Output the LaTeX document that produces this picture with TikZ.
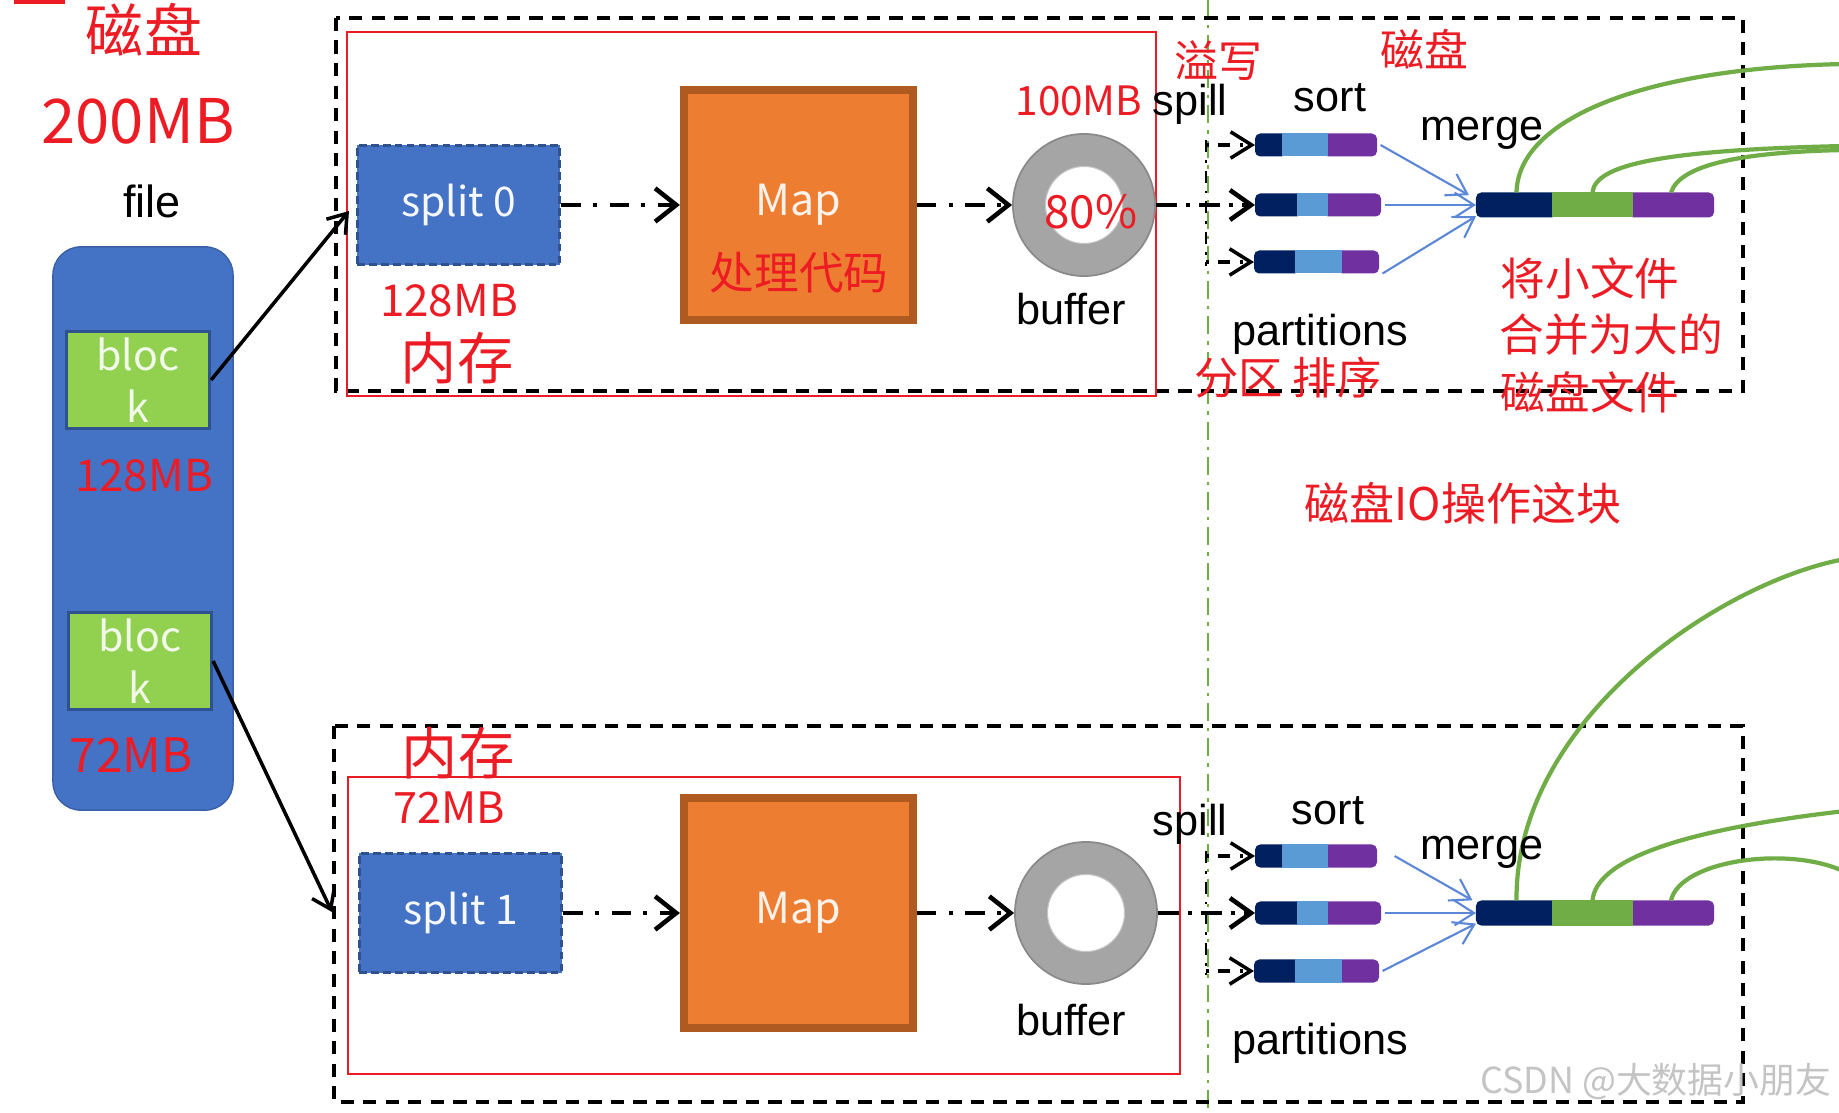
\documentclass[tikz,border=0pt]{standalone}
\usepackage{fontspec}
\setmainfont{Liberation Sans}
\newfontfamily\cjk{Noto Sans CJK SC}
\usetikzlibrary{arrows.meta,shapes.geometric}
\definecolor{cred}{RGB}{237,28,36}
\definecolor{cblue}{HTML}{4472C4}
\definecolor{cblueb}{HTML}{2F528F}
\definecolor{cgreenblk}{HTML}{92D050}
\definecolor{corange}{HTML}{ED7D31}
\definecolor{corangeb}{HTML}{AE5A21}
\definecolor{cgray}{HTML}{A5A5A5}
\definecolor{cgrayb}{HTML}{8A8A8A}
\definecolor{cnavy}{HTML}{002060}
\definecolor{clblue}{HTML}{5B9BD5}
\definecolor{cpurple}{HTML}{7030A0}
\definecolor{cgreen}{HTML}{70AD47}
\definecolor{carrowblue}{HTML}{5B87D6}
\definecolor{cmark}{HTML}{C4C4C4}
\begin{document}
\begin{tikzpicture}[x=0.01cm, y=-0.01cm,
  redtxt/.style={text=cred, inner sep=0, font=\cjk\fontsize{12.5}{15}\selectfont},
  blktxt/.style={text=black, inner sep=0, font=\fontsize{12.3}{14}\selectfont},
  outerbox/.style={draw=black, line width=1.1pt, dash pattern=on 3.8pt off 2.6pt},
  redbox/.style={draw=cred, line width=0.6pt},
  divider/.style={draw=cgreen, line width=0.6pt, dash pattern=on 5pt off 2pt on 1pt off 2pt},
  disk/.style={rectangle, rounded corners=0.28cm, fill=cblue, draw=cblue!85!black, line width=0.4pt, minimum width=1.80cm, minimum height=5.63cm, inner sep=0},
  blockbox/.style={rectangle, fill=cgreenblk, draw=cblueb, line width=0.9pt, minimum width=1.43cm, minimum height=0.97cm, text=white!88!cgreenblk, align=center, inner sep=0, font=\cjk\fontsize{11.7}{14.8}\selectfont},
  splitbox/.style={rectangle, fill=cblue, draw=cblueb, line width=1pt, dash pattern=on 2.2pt off 1.2pt, minimum width=2.02cm, minimum height=1.19cm, text=white!95!cblue, inner sep=0, font=\cjk\fontsize{11.6}{14}\selectfont},
  mapbox/.style={rectangle, fill=corange, draw=corangeb, line width=2.3pt, minimum width=2.29cm, minimum height=2.29cm, text=white!90!corange, inner sep=0, font=\cjk\fontsize{12.2}{14}\selectfont},
  ring/.style={circle, fill=cgray, draw=cgrayb, line width=0.5pt, minimum size=1.42cm, inner sep=0},
  hole/.style={circle, fill=white, draw=cgrayb!50, line width=0.3pt, minimum size=0.77cm, inner sep=0},
  seg/.style={rectangle, inner sep=0, outer sep=0, minimum height=0.23cm},
  mseg/.style={rectangle, inner sep=0, outer sep=0, minimum height=0.25cm},
  flow/.style={draw=black, line width=1.2pt, dash pattern=on 5.5pt off 3.5pt on 1.2pt off 3.5pt, -{Straight Barb[length=6pt,width=9.5pt,line width=1.3pt]}},
  spillmain/.style={draw=black, line width=1.2pt, dash pattern=on 6pt off 2.5pt on 1.2pt off 2.5pt, -{Straight Barb[length=6pt,width=8.5pt,line width=1.3pt]}},
  spillv/.style={draw=black, line width=0.8pt, dash pattern=on 3.5pt off 2.2pt on 0.8pt off 2.2pt},
  spilla/.style={draw=black, line width=0.9pt, dash pattern=on 0.8pt off 2.5pt on 3.5pt off 3pt, -{Straight Barb[length=6pt,width=7.5pt,line width=1pt]}},
  mergearrow/.style={draw=carrowblue, line width=0.6pt, -{Straight Barb[length=5.5pt,width=7pt,line width=0.6pt]}},
  gcurve/.style={draw=cgreen, line width=1.2pt},
  link/.style={draw=black, line width=1pt, -{Straight Barb[length=5pt,width=7pt,line width=1pt]}}
]
\useasboundingbox (0,0) rectangle (1839,1113);
\fill[white] (0,0) rectangle (1839,1113);
\clip (0,0) rectangle (1839,1113);

% green divider
\draw[divider] (1208,0) -- (1208,1113);

% frames
\draw[outerbox] (336,18) rectangle (1743,391);
\draw[redbox] (347,32) rectangle (1156,396);
\draw[outerbox] (334,726) rectangle (1743,1102);
\draw[redbox] (348,777) rectangle (1180,1074);
\draw[redbox, line width=0.9pt] (16,-30) rectangle (63,2);

% file on disk
\node[disk] (disk) at (143,528.5) {};
\node[blockbox] (blk1) at (138,380) {bloc\\k};
\node[blockbox] (blk2) at (140,661) {bloc\\k};

% row 1
\node[splitbox] (split0) at (458.5,205) {split 0};
\node[mapbox] (map0) at (798.5,205) {Map};
\node[ring] (buf0) at (1084,205) {};
\node[hole] (hole0) at (buf0.center) {};

% row 2
\node[splitbox] (split1) at (460.5,913) {split 1};
\node[mapbox] (map1) at (798.5,913) {Map};
\node[ring] (buf1) at (1086,913) {};
\node[hole] (hole1) at (buf1.center) {};

% partition bars, row 1
\node[seg, fill=cnavy, rounded corners=1.5pt, minimum width=0.32cm] (a1n) at (1271,145) {};
\node[seg, fill=cpurple, rounded corners=1.5pt, minimum width=0.54cm] (a1p) at (1350,145) {};
\node[seg, fill=clblue, minimum width=0.46cm] (a1b) at (1305,145) {};
\node[seg, fill=cnavy, rounded corners=1.5pt, minimum width=0.47cm] (a2n) at (1278.5,205) {};
\node[seg, fill=cpurple, rounded corners=1.5pt, minimum width=0.58cm] (a2p) at (1352,205) {};
\node[seg, fill=clblue, minimum width=0.31cm] (a2b) at (1312.5,205) {};
\node[seg, fill=cnavy, rounded corners=1.5pt, minimum width=0.46cm] (a3n) at (1277,262) {};
\node[seg, fill=cpurple, rounded corners=1.5pt, minimum width=0.42cm] (a3p) at (1358,262) {};
\node[seg, fill=clblue, minimum width=0.47cm] (a3b) at (1318.5,262) {};
% merged bar, row 1
\node[mseg, fill=cnavy, rounded corners=1.5pt, minimum width=0.81cm] (m1n) at (1516.5,205) {};
\node[mseg, fill=cpurple, rounded corners=1.5pt, minimum width=0.86cm] (m1p) at (1671,205) {};
\node[mseg, fill=cgreen, minimum width=0.81cm] (m1g) at (1592.5,205) {};

% partition bars, row 2
\node[seg, fill=cnavy, rounded corners=1.5pt, minimum width=0.32cm] (b1n) at (1271,856) {};
\node[seg, fill=cpurple, rounded corners=1.5pt, minimum width=0.54cm] (b1p) at (1350,856) {};
\node[seg, fill=clblue, minimum width=0.46cm] (b1b) at (1305,856) {};
\node[seg, fill=cnavy, rounded corners=1.5pt, minimum width=0.47cm] (b2n) at (1278.5,913) {};
\node[seg, fill=cpurple, rounded corners=1.5pt, minimum width=0.58cm] (b2p) at (1352,913) {};
\node[seg, fill=clblue, minimum width=0.31cm] (b2b) at (1312.5,913) {};
\node[seg, fill=cnavy, rounded corners=1.5pt, minimum width=0.46cm] (b3n) at (1277,971) {};
\node[seg, fill=cpurple, rounded corners=1.5pt, minimum width=0.42cm] (b3p) at (1358,971) {};
\node[seg, fill=clblue, minimum width=0.47cm] (b3b) at (1318.5,971) {};
% merged bar, row 2
\node[mseg, fill=cnavy, rounded corners=1.5pt, minimum width=0.81cm] (m2n) at (1516.5,913) {};
\node[mseg, fill=cpurple, rounded corners=1.5pt, minimum width=0.86cm] (m2p) at (1671,913) {};
\node[mseg, fill=cgreen, minimum width=0.81cm] (m2g) at (1592.5,913) {};

% connectors row 1
\draw[flow] (split0.east) -- (map0.west);
\draw[flow] (map0.east) -- (buf0.west);
\draw[spillmain] (buf0.east) -- (a2n.west);
\coordinate (sv1) at (1206,140);
\coordinate (sv2) at (1206,266);
\draw[spillv] (sv1) -- (sv2);
\draw[spilla] (sv1 |- a1n.west) -- (a1n.west);
\draw[spilla] (sv1 |- a3n.west) -- (a3n.west);
\draw[mergearrow] ([xshift=1pt]a1p.east) -- ([xshift=-2pt,yshift=2.8pt]m1n.west);
\draw[mergearrow] ([xshift=1pt]a2p.east) -- (m1n.west);
\draw[mergearrow] ([xshift=1pt]a3p.south east) -- ([yshift=-3.2pt]m1n.west);

% connectors row 2
\draw[flow] (split1.east) -- (map1.west);
\draw[flow] (map1.east) -- (buf1.west);
\draw[spillmain] (buf1.east) -- (b2n.west);
\coordinate (sv3) at (1206,851);
\coordinate (sv4) at (1206,975);
\draw[spillv] (sv3) -- (sv4);
\draw[spilla] (sv3 |- b1n.west) -- (b1n.west);
\draw[spilla] (sv3 |- b3n.west) -- (b3n.west);
\draw[mergearrow] ([xshift=5pt]b1p.east) -- ([xshift=-1pt,yshift=3.6pt]m2n.west);
\draw[mergearrow] ([xshift=1pt]b2p.east) -- (m2n.west);
\draw[mergearrow] ([xshift=1pt]b3p.east) -- ([yshift=-3pt]m2n.west);

% block to split links
\coordinate (in1) at (349,211);
\coordinate (in2) at (332,912);
\draw[link] (blk1.east) -- (in1);
\draw[link] (blk2.east) -- (in2);

% green curves
\coordinate (g1) at (1845,64);
\coordinate (g2) at (1845,146);
\coordinate (g3) at (1845,150);
\draw[gcurve] (m1n.north) .. controls (1518,120) and (1640,68) .. (g1);
\draw[gcurve] (m1g.north) .. controls (1595,165) and (1660,150) .. (g2);
\draw[gcurve] (m1p.north) .. controls (1680,165) and (1740,152) .. (g3);
\coordinate (g4) at (1845,559);
\coordinate (g5) at (1845,811);
\coordinate (g6) at (1845,872);
\draw[gcurve] (m2n.north) .. controls (1515,720) and (1720,582) .. (g4);
\draw[gcurve] (m2g.north) .. controls (1596,860) and (1680,830) .. (g5);
\draw[gcurve] (m2p.north) .. controls (1680,860) and (1790,845) .. (g6);

% texts, left
\node[redtxt, font=\cjk\fontsize{16.5}{18}\selectfont] (tdisk) at (144,30) {磁盘};
\node[redtxt, font=\cjk\fontsize{17.5}{20}\selectfont] (t200) at (138,121) {200MB};
\node[blktxt, font=\fontsize{12.8}{14}\selectfont] (tfile) at (152,201) {file};
\node[redtxt] (t128a) at (144,476) {128MB};
\node[redtxt, font=\cjk\fontsize{13.5}{15}\selectfont] (t72a) at (131,755) {72MB};

% texts, row 1
\node[redtxt] (t128b) at (449,301) {128MB};
\node[redtxt, font=\cjk\fontsize{16}{18}\selectfont] (tmem1) at (457,358) {内存};
\node[redtxt, font=\cjk\fontsize{12.7}{15}\selectfont] (tcode) at (799,273) {处理代码};
\node[redtxt, font=\cjk\fontsize{13}{15}\selectfont] (t80) at (1091,212) {80\%};
\node[blktxt] (tbuf1) at (1071,309) {buffer};
\node[redtxt, font=\cjk\fontsize{11.5}{14}\selectfont] (t100) at (1079,101) {100MB};
\node[blktxt] (tspill1) at (1190,104) {spill};
\node[redtxt] (tyx) at (1218,61) {溢写};
\node[blktxt] (tsort1) at (1330,98) {sort};
\node[redtxt] (tdisk2) at (1424,49) {磁盘};
\node[blktxt] (tmerge1) at (1482,133) {merge};
\node[blktxt] (tpart1) at (1320,334) {partitions};
\node[redtxt, font=\cjk\fontsize{12.6}{15}\selectfont] (tfq) at (1288,378) {分区 排序};
\node[redtxt, font=\cjk\fontsize{12.7}{15}\selectfont] (tl1) at (1590,278) {将小文件};
\node[redtxt, font=\cjk\fontsize{12.7}{15}\selectfont] (tl2) at (1611,335) {合并为大的};
\node[redtxt, font=\cjk\fontsize{12.7}{15}\selectfont] (tl3) at (1590,392) {磁盘文件};
\node[redtxt, font=\cjk\fontsize{12.8}{15}\selectfont] (tio) at (1463,503) {磁盘IO操作这块};

% texts, row 2
\node[redtxt, font=\cjk\fontsize{16}{18}\selectfont] (tmem2) at (458,753) {内存};
\node[redtxt, font=\cjk\fontsize{12.3}{15}\selectfont] (t72b) at (449,808) {72MB};
\node[blktxt] (tbuf2) at (1071,1020) {buffer};
\node[blktxt] (tspill2) at (1190,824) {spill};
\node[blktxt] (tsort2) at (1328,811) {sort};
\node[blktxt] (tpart2) at (1320,1043) {partitions};
\node[blktxt] (tmerge2) at (1482,852) {merge};

% watermark
\node[inner sep=0, anchor=east, text=cmark, font=\cjk\fontsize{10.2}{12}\selectfont] (tmark) at (1832,1082) {CSDN @大数据小朋友};
\end{tikzpicture}
\end{document}
